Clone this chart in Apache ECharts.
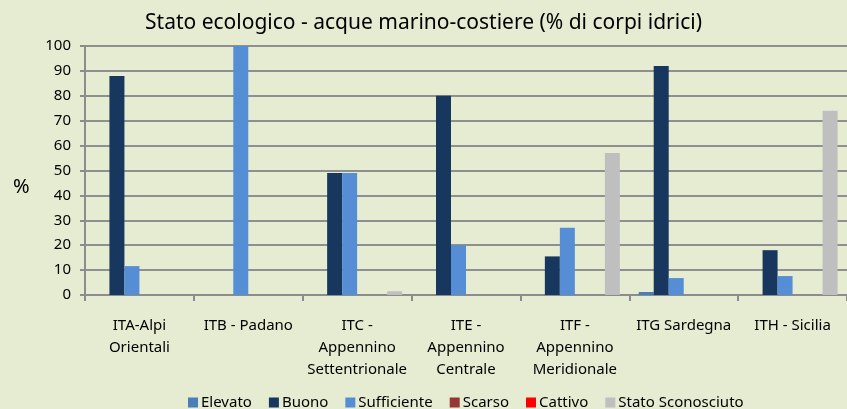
<!DOCTYPE html>
<html>
<head>
<meta charset="utf-8">
<script src="https://cdn.jsdelivr.net/npm/echarts@6/dist/echarts.min.js"></script>
<style>
  html, body { margin: 0; padding: 0; background: #e6ecd2; }
  #chart { width: 847px; height: 409px; }
</style>
</head>
<body>
<div id="chart"></div>
<script>
// dati (% di corpi idrici)
const categories = ['ITA-Alpi\nOrientali', 'ITB - Padano', 'ITC -\nAppennino\nSettentrionale', 'ITE -\nAppennino\nCentrale', 'ITF -\nAppennino\nMeridionale', 'ITG Sardegna', 'ITH - Sicilia']
const elevato = [0, 0, 0, 0, 0, 1.2, 0]
const buono = [88, 0, 49, 80, 15.5, 92, 18]
const sufficiente = [11.6, 100, 49, 20, 27, 6.8, 7.6]
const scarso = [0, 0, 0, 0, 0, 0, 0]
const cattivo = [0, 0, 0, 0, 0, 0, 0]
const sconosciuto = [0, 0, 1.5, 0, 57, 0, 74]
const yTicks = { min: 0, max: 100, interval: 10 }

const font = "'Liberation Sans Narrow', 'Noto Sans', sans-serif"
const seriesDefs = [
  { name: 'Elevato', data: elevato, color: '#4a7ebb' },
  { name: 'Buono', data: buono, color: '#17375e' },
  { name: 'Sufficiente', data: sufficiente, color: '#558ed5' },
  { name: 'Scarso', data: scarso, color: '#953735' },
  { name: 'Cattivo', data: cattivo, color: '#ff0000' },
  { name: 'Stato Sconosciuto', data: sconosciuto, color: '#bfbfbf' },
]

const chartOptions = {
  backgroundColor: '#e6ecd2',
  animation: false,
  textStyle: { fontFamily: font },
  title: {
    text: 'Stato ecologico - acque marino-costiere (% di corpi idrici)',
    left: 'center',
    top: 8,
    textStyle: { fontFamily: font, fontSize: 21, fontWeight: 'normal', color: '#000' },
  },
  graphic: [
    {
      type: 'text',
      left: 13,
      top: 177,
      style: { text: '%', fontFamily: font, fontSize: 20, fill: '#000' },
    },
  ],
  legend: {
    left: 183,
    top: 390,
    itemWidth: 10,
    itemHeight: 10,
    itemGap: 17,
    icon: 'rect',
    textStyle: { fontFamily: font, fontSize: 15, color: '#000', padding: [0, 0, 0, -2] },
  },
  grid: { left: 85, top: 46, width: 768, bottom: 114 },
  xAxis: {
    type: 'category',
    data: categories,
    axisLine: { lineStyle: { color: '#8c8c8c', width: 2 } },
    axisTick: { show: true, length: 6, lineStyle: { color: '#8c8c8c', width: 2 } },
    axisLabel: {
      interval: 0,
      margin: 20,
      fontFamily: font,
      fontSize: 15,
      lineHeight: 22,
      color: '#000',
    },
  },
  yAxis: {
    type: 'value',
    min: yTicks.min,
    max: yTicks.max,
    interval: yTicks.interval,
    axisLine: { show: true, lineStyle: { color: '#8c8c8c', width: 2 } },
    axisTick: { show: true, length: 5, lineStyle: { color: '#8c8c8c', width: 2 } },
    axisLabel: { fontFamily: font, fontSize: 15, color: '#000', margin: 14 },
    splitLine: { lineStyle: { color: '#8f8f8f', width: 2 } },
  },
  series: seriesDefs.map(s => ({
    name: s.name,
    type: 'bar',
    data: s.data,
    barWidth: 15,
    barGap: '0%',
    itemStyle: { color: s.color },
  })),
}

const mychart = echarts.init(document.getElementById('chart'))
mychart.setOption(chartOptions)
</script>
</body>
</html>
